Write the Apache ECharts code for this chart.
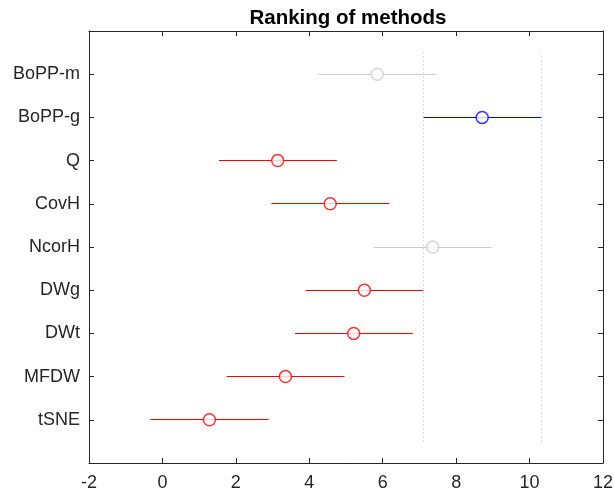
<!DOCTYPE html>
<html>
<head>
<meta charset="utf-8">
<title>Ranking of methods</title>
<script src="https://cdn.jsdelivr.net/npm/echarts@6/dist/echarts.min.js"></script>
<style>
  html, body { margin: 0; padding: 0; background: #ffffff; }
  #chart { width: 614px; height: 497px; }
</style>
</head>
<body>
<div id="chart"></div>
<script>
// Methods listed top to bottom as they appear on the vertical axis
const methods = ['BoPP-m', 'BoPP-g', 'Q', 'CovH', 'NcorH', 'DWg', 'DWt', 'MFDW', 'tSNE'];
// Mean rank of each method
const meanRank = [5.85, 8.71, 3.14, 4.57, 7.36, 5.50, 5.21, 3.35, 1.28];
// Comparison interval bounds
const lowerBound = [4.25, 7.11, 1.54, 2.97, 5.76, 3.90, 3.61, 1.75, -0.33];
const upperBound = [7.46, 10.32, 4.75, 6.18, 8.97, 7.11, 6.82, 4.96, 2.89];
// 'selected' = reference group, 'different' = significantly different, 'similar' = not different
const status = ['similar', 'selected', 'different', 'different', 'similar', 'different', 'different', 'different', 'different'];
// Horizontal axis ticks
const xTicks = [-2, 0, 2, 4, 6, 8, 10, 12];

const palette = { selected: '#0000ff', different: '#ff0000', similar: '#cccccc' };
const axisColor = '#262626';
const fontFamily = '"Liberation Sans", Arial, Helvetica, sans-serif';
const n = methods.length;

// Vertical position: first method on top
const yPos = methods.map((_, i) => n - i);
const yLabel = {};
methods.forEach((m, i) => { yLabel[yPos[i]] = m; });

const selIdx = status.indexOf('selected');

const barData = methods.map((m, i) => [lowerBound[i], upperBound[i], yPos[i]]);
const meanData = methods.map((m, i) => ({
  value: [meanRank[i], yPos[i]],
  itemStyle: { borderColor: palette[status[i]], color: '#ffffff' }
}));

const xMin = xTicks[0], xMax = xTicks[xTicks.length - 1], xStep = xTicks[1] - xTicks[0];

const chart = echarts.init(document.getElementById('chart'), null, { renderer: 'canvas' });

// Shared look of the four box edges
function boxAxis(extra) {
  return Object.assign({
    axisLine: { show: true, onZero: false, lineStyle: { color: axisColor, width: 1 } },
    axisTick: { show: true, inside: true, length: 5, lineStyle: { color: axisColor, width: 1 } },
    splitLine: { show: false }
  }, extra);
}

chart.setOption({
  animation: false,
  backgroundColor: '#ffffff',
  title: {
    text: 'Ranking of methods',
    left: 343,
    top: 3,
    textAlign: 'center',
    textStyle: { fontFamily, fontSize: 20.5, fontWeight: 'bold', color: '#000000' }
  },
  grid: { left: 89, right: 11, top: 31, bottom: 34, outerBoundsMode: 'none' },
  xAxis: [
    boxAxis({
      type: 'value', position: 'bottom', min: xMin, max: xMax, interval: xStep,
      axisLabel: { show: true, margin: 11, color: axisColor, fontFamily, fontSize: 18, showMinLabel: true, showMaxLabel: true }
    }),
    boxAxis({
      type: 'value', position: 'top', min: xMin, max: xMax, interval: xStep,
      axisLabel: { show: false }
    })
  ],
  yAxis: [
    boxAxis({
      type: 'value', position: 'left', min: 0, max: n + 1, interval: 1,
      axisLabel: {
        show: true, margin: 9, color: axisColor, fontFamily, fontSize: 18,
        formatter: v => yLabel[v] || ''
      }
    }),
    boxAxis({
      type: 'value', position: 'right', min: 0, max: n + 1, interval: 1,
      axisLabel: { show: false }
    })
  ],
  series: [
    {
      // Horizontal comparison interval of each method
      type: 'custom',
      xAxisIndex: 0, yAxisIndex: 0,
      encode: { x: [0, 1], y: 2 },
      data: barData,
      renderItem: (params, api) => {
        const y = api.value(2);
        const a = api.coord([api.value(0), y]);
        const b = api.coord([api.value(1), y]);
        const py = Math.round(a[1] - 0.5) + 0.5; // keep 1px strokes crisp
        return {
          type: 'line',
          shape: { x1: a[0], y1: py, x2: b[0], y2: py },
          style: { stroke: palette[status[params.dataIndex]], lineWidth: 1 }
        };
      },
      z: 2
    },
    {
      // Dotted guides at the bounds of the selected method
      type: 'line',
      data: [],
      markLine: {
        silent: true,
        symbol: 'none',
        label: { show: false },
        lineStyle: { color: '#bdbdbd', width: 1, type: [1, 3] },
        data: [
          [{ coord: [lowerBound[selIdx], 0.5] }, { coord: [lowerBound[selIdx], n + 0.5] }],
          [{ coord: [upperBound[selIdx], 0.5] }, { coord: [upperBound[selIdx], n + 0.5] }]
        ]
      },
      z: 1
    },
    {
      // Mean rank markers
      type: 'scatter',
      symbol: 'circle',
      symbolSize: 12,
      itemStyle: { borderWidth: 1.5 },
      data: meanData,
      z: 3
    }
  ]
});
</script>
</body>
</html>
